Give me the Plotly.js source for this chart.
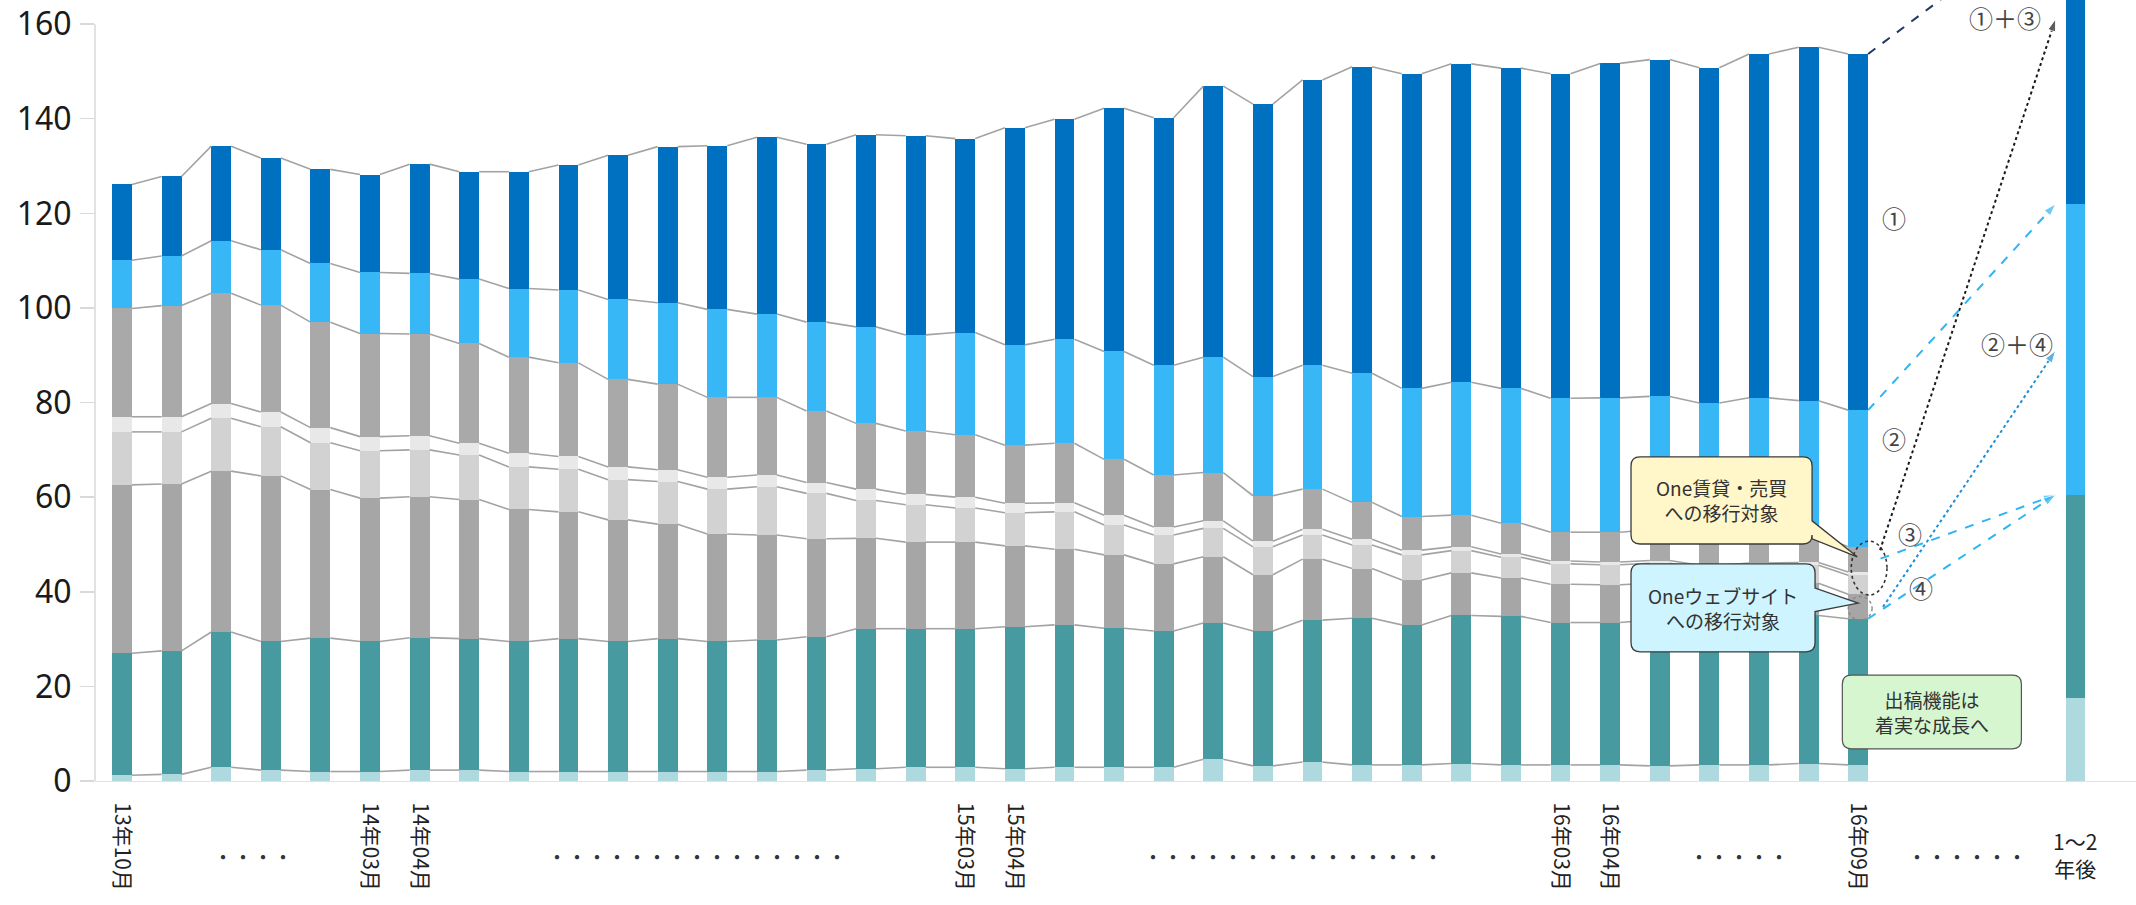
<!DOCTYPE html>
<html><head><meta charset="utf-8">
<script src="https://cdn.plot.ly/plotly-3.0.1.min.js"></script>
<style>html,body{margin:0;padding:0;background:#fff;} #chart{width:2136px;height:905px;}</style>
</head><body><div id="chart"></div>
<script>
// ---------- data ----------
const months = ['13年10月','13年11月','13年12月','14年01月','14年02月','14年03月','14年04月','14年05月','14年06月','14年07月','14年08月','14年09月','14年10月','14年11月','14年12月','15年01月','15年02月','15年03月','15年04月','15年05月','15年06月','15年07月','15年08月','15年09月','15年10月','15年11月','15年12月','16年01月','16年02月','16年03月','16年04月','16年05月','16年06月','16年07月','16年08月','16年09月'];
const shownMonths = ['13年10月','14年03月','14年04月','15年03月','15年04月','16年03月','16年04月','16年09月'];
const futureLabel = '1～2<br>年後';

// stacked series, bottom to top
const pale      = [1.2,1.4,2.9,2.3,2.0,2.0,2.3,2.3,2.0,2.0,2.0,2.0,2.0,2.0,2.3,2.6,2.9,2.9,2.6,2.9,2.9,2.9,4.6,3.2,4.0,3.4,3.4,3.7,3.4,3.4,3.4,3.2,3.4,3.4,3.7,3.4];
const teal      = [25.8,26.1,28.6,27.2,28.2,27.5,28.0,27.8,27.5,28.1,27.5,28.1,27.5,27.8,28.2,29.6,29.3,29.3,30.0,30.1,29.4,28.8,28.8,28.5,30.0,31.0,29.6,31.3,31.4,30.1,30.1,30.8,30.1,31.1,31.3,30.9];
const grayA     = [35.6,35.3,34.0,35.0,31.4,30.3,29.8,29.4,27.9,26.8,25.7,24.2,22.7,22.2,20.7,19.1,18.3,18.3,17.1,16.0,15.5,14.2,14.0,11.9,12.9,10.5,9.5,9.0,8.1,8.1,8.0,7.8,7.5,7.0,6.8,5.2];
const lightGray = [11.2,11.0,11.2,10.4,9.9,10.0,9.9,9.4,9.0,9.0,8.5,9.0,9.5,10.2,9.6,8.0,7.9,7.2,7.0,7.9,6.3,6.1,6.0,5.9,5.1,5.0,5.3,4.7,4.4,4.3,4.2,4.2,4.0,4.0,3.8,4.0];
const paleGray  = [3.2,3.2,3.1,3.1,3.2,3.0,3.0,2.5,2.9,2.7,2.7,2.5,2.5,2.5,2.3,2.4,2.2,2.3,2.0,1.9,2.1,1.7,1.6,1.2,1.2,1.2,1.0,0.8,0.7,0.6,0.6,0.6,0.6,0.6,0.6,0.7];
const grayB     = [22.9,23.5,23.3,22.6,22.3,21.8,21.5,21.1,20.3,19.8,18.5,18.1,16.9,16.4,15.1,13.9,13.4,13.2,12.3,12.6,11.8,11.0,10.2,9.6,8.5,7.8,7.1,6.7,6.5,6.1,6.3,6.5,6.1,6.2,5.8,5.3];
const lightBlue = [10.2,10.5,11.1,11.7,12.4,12.9,12.8,13.6,14.5,15.4,16.9,17.2,18.6,17.6,18.8,20.4,20.3,21.6,21.2,22.0,22.8,23.2,24.4,25.2,26.2,27.3,27.1,28.1,28.5,28.3,28.4,28.2,28.2,28.7,28.4,28.9];
const darkBlue  = [16.0,16.8,20.0,19.4,19.9,20.7,23.1,22.7,24.7,26.4,30.5,33.0,34.6,37.4,37.6,40.6,42.1,41.0,45.9,46.5,51.4,52.3,57.3,57.6,60.3,64.8,66.5,67.3,67.7,68.6,70.7,71.2,70.9,72.7,74.7,75.3];

// future bar (1～2年後)
const futurePale = 17.5;
const futureTeal = 43.0;
const futureLightBlue = 61.5;
const futureDarkBlue = 63.0;

// ---------- layout constants ----------
const FONT = '"Noto Sans CJK JP", "Noto Sans", sans-serif';
const NUMFONT = '"Noto Sans", "Open Sans", sans-serif';
const W = 2136, H = 905;
const M = {l:95, r:0, t:0, b:124};
const XR = [-0.544, 40.6];
const YR = [0, 165.1];
const BW = 0.4;
const futureGap = 4.38;
const sx = (W - M.l - M.r) / (XR[1] - XR[0]);
const sy = (H - M.t - M.b) / (YR[1] - YR[0]);

const n = months.length;
const xi = months.map((_, i) => i);
const futureX = n - 1 + futureGap;

const series = [
  {v: pale,      f: futurePale,      c: '#aedadf'},
  {v: teal,      f: futureTeal,      c: '#479a9f'},
  {v: grayA,     f: 0,               c: '#a6a6a6'},
  {v: lightGray, f: 0,               c: '#d2d2d2'},
  {v: paleGray,  f: 0,               c: '#e8e8e8'},
  {v: grayB,     f: 0,               c: '#a9a9a9'},
  {v: lightBlue, f: futureLightBlue, c: '#38b7f7'},
  {v: darkBlue,  f: futureDarkBlue,  c: '#0070c0'}
];

const traces = [];
series.forEach(s => {
  traces.push({
    type: 'bar', x: xi.concat([futureX]), y: s.v.concat([s.f]),
    width: BW, marker: {color: s.c, line: {width: 0}},
    hoverinfo: 'skip', showlegend: false
  });
});

// cumulative tops
const cum = [];
let run = months.map(() => 0);
series.forEach(s => { run = run.map((r, i) => r + s.v[i]); cum.push(run.slice()); });
const fcum = [];
let fr = 0;
series.forEach(s => { fr += s.f; fcum.push(fr); });

// series lines between bars
cum.forEach(c => {
  const lx = [], ly = [];
  for (let i = 0; i < n - 1; i++) {
    lx.push(i + BW / 2, i + 1 - BW / 2, null);
    ly.push(c[i], c[i + 1], null);
  }
  traces.push({type: 'scatter', mode: 'lines', x: lx, y: ly,
    line: {color: '#a3a3a3', width: 1.6}, hoverinfo: 'skip', showlegend: false});
});

// arrows
function arrow(x0, y0, x1, y1, color, dash, width, head) {
  return {type: 'scatter', mode: head ? 'lines+markers' : 'lines', x: [x0, x1], y: [y0, y1],
    line: {color: color, dash: dash, width: width},
    marker: {symbol: 'arrow', size: [0, head ? 13 : 0], angleref: 'previous', color: color},
    hoverinfo: 'skip', showlegend: false};
}
const last = n - 1;
const startX = last + BW / 2;
const endX = futureX - BW / 2 - 0.2;
traces.push(arrow(startX, cum[7][last], futureX - BW / 2, fcum[7], '#1f3864', 'dash', 2, false));
traces.push(arrow(last + 0.44, 48.8, endX, 161.1, '#1a1a1a', 'dot', 2, true));
traces.push(arrow(startX, cum[6][last], endX, fcum[6], '#30b4f2', 'dash', 2, true));
traces.push(arrow(last + 0.5, 36.8, endX, 91.0, '#1e90d8', 'dot', 2, true));
traces.push(arrow(last + 0.45, 47.0, endX, fcum[1], '#30b4f2', 'dash', 2, true));
traces.push(arrow(startX, cum[1][last], endX, fcum[1], '#30b4f2', 'dash', 2, true));

// rounded box with optional right-side tail
function boxPath(x0, x1, y0, y1, r, tail) {
  const rx = r / sx, ry = r / sy;
  let p = `M ${x0 + rx},${y1} L ${x1 - rx},${y1} Q ${x1},${y1} ${x1},${y1 - ry} `;
  if (tail) p += `L ${x1},${tail.t} L ${tail.x},${tail.y} L ${x1},${tail.b} `;
  p += `L ${x1},${y0 + ry} Q ${x1},${y0} ${x1 - rx},${y0} L ${x0 + rx},${y0} Q ${x0},${y0} ${x0},${y0 + ry} L ${x0},${y1 - ry} Q ${x0},${y1} ${x0 + rx},${y1} Z`;
  return p;
}

const shapes = [
  {type: 'line', xref: 'paper', x0: 0, x1: 0, yref: 'y', y0: 0, y1: 160, line: {color: '#d9d9d9', width: 1.5}},
  {type: 'circle', xref: 'x', yref: 'y', x0: 34.86, x1: 35.58, y0: 39.3, y1: 50.7, line: {color: '#333', width: 1.6, dash: 'dot'}},
  {type: 'circle', xref: 'x', yref: 'y', x0: 34.8, x1: 35.28, y0: 34.0, y1: 39.0, line: {color: '#888', width: 1.4, dash: 'dot'}},
  {type: 'path', xref: 'x', yref: 'y', path: boxPath(30.42, 34.07, 50.1, 68.5, 9, {t: 55.0, b: 51.2, x: 34.98, y: 47.4}),
    fillcolor: '#fff6c9', line: {color: '#3a3a3a', width: 1.3}},
  {type: 'path', xref: 'x', yref: 'y', path: boxPath(30.42, 34.13, 27.3, 45.9, 9, {t: 40.8, b: 35.8, x: 35.0, y: 37.6}),
    fillcolor: '#cdf4ff', line: {color: '#3a3a3a', width: 1.3}},
  {type: 'path', xref: 'x', yref: 'y', path: boxPath(34.68, 38.29, 6.8, 22.4, 9, null),
    fillcolor: '#d6f6d0', line: {color: '#555', width: 1.2}}
];

const tf = (s, c) => ({family: FONT, size: s, color: c || '#333'});
const annotations = [
  {x: 32.25, y: 59.3, xref: 'x', yref: 'y', text: 'One賃貸・売買<br>への移行対象', showarrow: false, font: tf(19), align: 'center'},
  {x: 32.27, y: 36.6, xref: 'x', yref: 'y', text: 'Oneウェブサイト<br>への移行対象', showarrow: false, font: tf(19), align: 'center'},
  {x: 36.49, y: 14.6, xref: 'x', yref: 'y', text: '出稿機能は<br>着実な成長へ', showarrow: false, font: tf(19), align: 'center'},
  {x: 35.72, y: 119.1, xref: 'x', yref: 'y', text: '①', showarrow: false, font: tf(24, '#444')},
  {x: 35.72, y: 72.3, xref: 'x', yref: 'y', text: '②', showarrow: false, font: tf(24, '#444')},
  {x: 36.05, y: 52.4, xref: 'x', yref: 'y', text: '③', showarrow: false, font: tf(24, '#444')},
  {x: 36.27, y: 41.0, xref: 'x', yref: 'y', text: '④', showarrow: false, font: tf(24, '#444')},
  {x: 37.96, y: 161.5, xref: 'x', yref: 'y', text: '①＋③', showarrow: false, font: tf(24, '#444')},
  {x: 38.2, y: 92.4, xref: 'x', yref: 'y', text: '②＋④', showarrow: false, font: tf(24, '#444')},
  {x: futureX, y: 0, xref: 'x', yref: 'paper', yanchor: 'middle', yshift: -73, text: futureLabel, showarrow: false, font: tf(21, '#222'), align: 'center'}
];
const dotGroups = [[2.64, 4], [11.6, 15], [23.6, 15], [32.6, 5], [37.2, 6]];
dotGroups.forEach(g => annotations.push({x: g[0], y: 0, xref: 'x', yref: 'paper', yanchor: 'middle', yshift: -75,
  text: '・'.repeat(g[1]), showarrow: false, font: tf(20, '#333')}));

const layout = {
  width: W, height: H, margin: M, barmode: 'stack',
  paper_bgcolor: '#fff', plot_bgcolor: '#fff', showlegend: false, hovermode: false,
  font: {family: FONT, color: '#222'},
  xaxis: {range: XR, tickmode: 'array', tickvals: shownMonths.map(m => months.indexOf(m)), ticktext: shownMonths,
    tickangle: 90, tickfont: {family: FONT, size: 21, color: '#222'}, showgrid: false, zeroline: false,
    showline: true, linecolor: '#e2e2e2', linewidth: 1.2, ticks: '', ticklabelstandoff: 16},
  yaxis: {range: YR, tick0: 0, dtick: 20, showgrid: false, zeroline: false, showline: false,
    ticks: 'outside', ticklen: 14, tickwidth: 1.5, tickcolor: '#d9d9d9', ticklabelstandoff: 2,
    ticklabeloverflow: 'allow',
    tickfont: {family: NUMFONT, size: 32, color: '#1a1a1a'}},
  shapes: shapes, annotations: annotations
};

Plotly.newPlot('chart', traces, layout, {displayModeBar: false, staticPlot: true});
</script></body></html>
